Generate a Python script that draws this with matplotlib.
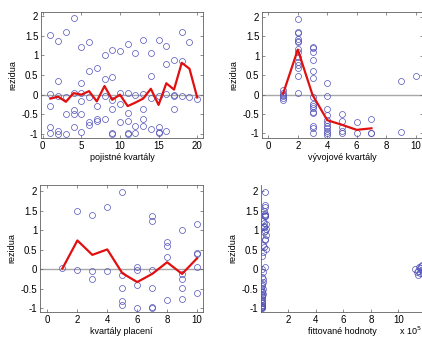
import matplotlib
matplotlib.use('Agg')
import matplotlib.pyplot as plt

plt.rcParams['font.family'] = ['Liberation Sans', 'DejaVu Sans']
plt.rcParams['font.size'] = 6.5

# rezidua podle pojistnych kvartalu
pk_x = [1, 1, 1, 1, 1, 2, 2, 2, 2, 2, 3, 3, 3, 3, 4, 4, 4, 4, 4,
        5, 5, 5, 5, 5, 5, 6, 6, 6, 6, 6, 7, 7, 7, 7, 8, 8, 8, 8,
        9, 9, 9, 9, 9, 9, 10, 10, 10, 10, 11, 11, 11, 11, 11, 11,
        12, 12, 12, 12, 13, 13, 13, 13, 13, 14, 14, 14, 14,
        15, 15, 15, 15, 15, 16, 16, 16, 16, 17, 17, 17, 17,
        18, 18, 18, 19, 19, 20]
pk_res = [1.52, 0.03, -0.28, -0.83, -0.98, 1.37, 0.35, -0.04, -0.91, -1.0,
          1.59, -0.06, -0.5, -1.0, 1.94, 0.04, -0.38, -0.5, -0.81,
          1.22, 0.3, 0.05, -0.15, -0.48, -0.95, 1.35, 0.6, -0.06, -0.7, -0.77,
          0.68, -0.28, -0.61, -0.67, 1.0, 0.41, -0.04, -0.61,
          1.14, 0.45, -0.13, -0.36, -0.97, -1.0, 1.12, 0.05, -0.23, -0.69,
          1.3, 0.04, -0.47, -0.66, -0.97, -1.0,
          1.07, 0.0, -0.8, -0.97, 1.38, 0.02, -0.37, -0.62, -0.79,
          1.07, 0.47, -0.08, -0.87,
          1.39, -0.03, -0.83, -0.94, -0.97, 1.24, 0.79, 0.03, -0.93,
          0.88, -0.02, -0.03, -0.36,
          1.6, 0.86, -0.04, 1.35, -0.06, -0.1]
pk_mean_x = list(range(1, 21))
pk_mean = [-0.1, -0.05, -0.18, 0.04, 0.0, 0.09, -0.17, 0.22, -0.13, 0.0,
           -0.29, -0.2, -0.1, 0.15, -0.26, 0.29, 0.13, 0.81, 0.66, -0.07]

# rezidua podle vyvojovych kvartalu
vk_x = [1, 1, 1, 1, 1, 1,
        2, 2, 2, 2, 2, 2, 2, 2, 2, 2, 2, 2, 2, 2,
        3, 3, 3, 3, 3, 3, 3, 3, 3, 3, 3, 3, 3, 3, 3,
        4, 4, 4, 4, 4, 4, 4, 4, 4, 4, 4,
        5, 5, 5, 5, 5, 6, 6, 7, 7, 7, 9, 9, 10]
vk_res = [0.13, 0.05, 0.0, -0.04, -0.08, -0.14,
          1.96, 1.62, 1.58, 1.43, 1.39, 1.35, 1.17, 1.11, 0.98, 0.85, 0.77, 0.68, 0.48, 0.05,
          1.24, 1.21, 1.09, 0.88, 0.62, 0.42, -0.07, -0.24, -0.29, -0.35, -0.44, -0.48,
          -0.81, -0.85, -0.98,
          0.31, -0.03, -0.38, -0.53, -0.66, -0.74, -0.81, -0.87, -0.94, -0.99, -1.03,
          -0.5, -0.67, -0.84, -0.94, -1.0, -0.71, -0.99, -0.63, -0.98, -1.0,
          0.36, -0.96, 0.47]
vk_mean_x = [1, 2, 3, 4, 5, 6, 7]
vk_mean = [0.02, 1.16, -0.01, -0.66, -0.78, -0.91, -0.87]

# rezidua podle kvartalu placeni
kp_x = [1, 2, 2, 3, 3, 3, 4, 4, 5, 5, 5, 5, 5, 6, 6, 6, 6,
        7, 7, 7, 7, 7, 7, 8, 8, 8, 8, 9, 9, 9, 9, 9, 10, 10, 10, 10, 10]
kp_res = [0.03, 1.51, -0.03, 1.39, -0.05, -0.25, 1.61, -0.04,
          1.98, -0.15, -0.49, -0.82, -0.91, 0.05, -0.02, -0.4, -1.0,
          1.38, 1.24, -0.01, -0.49, -0.98, -0.99, 0.71, 0.61, 0.31, -0.8,
          1.01, -0.12, -0.25, -0.48, -0.76, 1.16, 0.43, 0.38, 0.05, -0.61]
kp_mean_x = list(range(1, 11))
kp_mean = [0.02, 0.74, 0.37, 0.51, -0.1, -0.33, -0.12, 0.18, -0.12, 0.28]

# rezidua proti fittovanym hodnotam (x 10^5)
fit_x = [0.32, 0.3, 0.32, 0.25, 0.3, 0.32, 0.12, 0.25, 0.37, 0.2, 0.37, 0.25,
         0.37, 0.32, 0.12, 0.37, 0.17, 0.05, 0.3, 0.07, 0.12, 0.17, 0.12, 0.1,
         0.12, 0.07, 0.12, 0.05, 0.1, 0.07, 0.05, 0.07, 0.05,
         0.05, 0.08, 0.03, 0.06, 0.04, 0.08, 0.03, 0.06, 0.09, 0.04, 0.08, 0.02,
         0.3, 0.28, 0.2, 0.3, 0.28, 0.22,
         11.25, 11.4, 11.5, 11.6, 11.7, 11.45, 11.75, 11.55, 11.35, 11.65, 11.8]
fit_res = [1.98, 1.65, 1.6, 1.5, 1.43, 1.38, 1.25, 1.2, 1.16, 1.08, 1.04, 0.95,
           0.88, 0.74, 0.63, 0.52, 0.44, 0.34, 0.05, 0.0, -0.07, -0.25, -0.33, -0.42,
           -0.5, -0.59, -0.64, -0.7, -0.76, -0.82, -0.88, -0.94, -1.0,
           -0.2, -0.38, -0.48, -0.55, -0.66, -0.72, -0.8, -0.86, -0.91, -0.96, -0.98, -0.99,
           1.36, 1.4, 1.12, 0.98, 0.78, 0.58,
           0.0, -0.05, 0.05, -0.1, 0.1, -0.15, -0.02, 0.02, -0.08, 0.08, -0.12]

W, H = 422, 338
fig = plt.figure(figsize=(W / 100, H / 100), dpi=100)

mk = dict(ls='none', marker='o', ms=4.3, mfc='none', mec='#5050b8', mew=0.5)
axcol = '#606060'
lab = 6.5
tick = 7


def style(ax, box=True):
    for s in ax.spines.values():
        s.set_color(axcol)
        s.set_linewidth(0.6)
    if not box:
        ax.spines['top'].set_visible(False)
        ax.spines['right'].set_visible(False)
    ax.tick_params(direction='in', length=2.5, width=0.5, color=axcol,
                   top=box, right=box, labelsize=tick, pad=2)
    ax.set_ylabel('rezidua', fontsize=lab, labelpad=3)
    ax.set_yticks([-1, -0.5, 0, 0.5, 1, 1.5, 2])
    ax.set_yticklabels(['-1', '-0.5', '0', '0.5', '1', '1.5', '2'])


def px(l, r, t, b):
    return [l / W, (H - b) / H, (r - l) / W, (b - t) / H]


ax1 = fig.add_axes(px(41, 203, 12, 138))
ax1.axhline(0, color='#a8a8a8', lw=1, zorder=1)
ax1.plot(pk_x, pk_res, **mk)
ax1.plot(pk_mean_x, pk_mean, color='#e01010', lw=1.6)
ax1.set_xlim(-0.22, 20.75)
ax1.set_ylim(-1.1, 2.1)
ax1.set_xticks([0, 5, 10, 15, 20])
ax1.set_xlabel('pojistné kvartály', fontsize=lab, labelpad=1.5)
style(ax1)

ax2 = fig.add_axes(px(262, 423, 12, 138))
ax2.axhline(0, color='#a8a8a8', lw=1, zorder=1)
ax2.plot(vk_x, vk_res, **mk)
ax2.plot(vk_mean_x, vk_mean, color='#e01010', lw=1.6)
ax2.set_xlim(-0.43, 10.5)
ax2.set_ylim(-1.12, 2.13)
ax2.set_xticks([0, 2, 4, 6, 8, 10])
ax2.set_xlabel('vývojové kvartály', fontsize=lab, labelpad=1.5)
style(ax2)

ax3 = fig.add_axes(px(40, 203, 184.5, 312))
ax3.axhline(0, color='#a8a8a8', lw=1, zorder=1)
ax3.plot(kp_x, kp_res, **mk)
ax3.plot(kp_mean_x, kp_mean, color='#e01010', lw=1.6)
ax3.set_xlim(-0.5, 10.4)
ax3.set_ylim(-1.1, 2.18)
ax3.set_xticks([0, 2, 4, 6, 8, 10])
ax3.set_xlabel('kvartály placení', fontsize=lab, labelpad=1.5)
style(ax3)

ax4 = fig.add_axes(px(261, 423, 184.5, 312))
ax4.plot(fit_x, fit_res, **mk)
ax4.set_xlim(0, 11.8)
ax4.set_ylim(-1.1, 2.18)
ax4.set_xticks([2, 4, 6, 8, 10])
ax4.set_xlabel('fittované hodnoty', fontsize=lab, labelpad=1.5)
style(ax4, box=False)
fig.text(399 / W, 1 - 331 / H, 'x 10$^5$', fontsize=lab, va='center', ha='left')

fig.savefig('out.png', dpi=100)
